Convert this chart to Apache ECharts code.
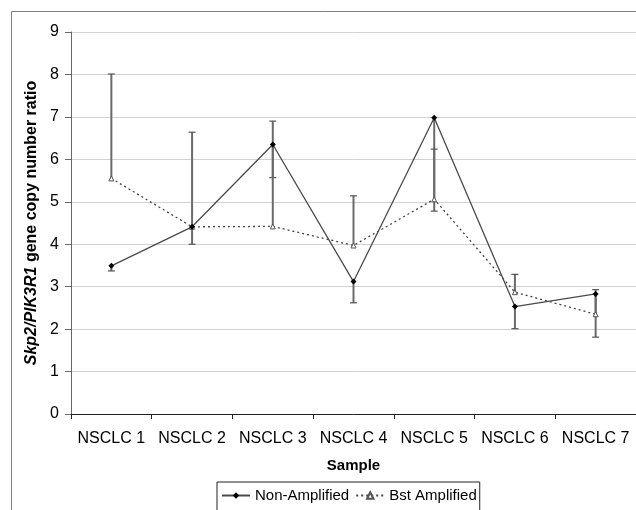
<!DOCTYPE html>
<html>
<head>
<meta charset="utf-8">
<script src="https://cdn.jsdelivr.net/npm/echarts@6/dist/echarts.min.js"></script>
<style>html,body{margin:0;padding:0;background:#fff;}#c{width:636px;height:510px;}</style>
</head>
<body>
<div id="c"></div>
<script>
var categories = ['NSCLC 1','NSCLC 2','NSCLC 3','NSCLC 4','NSCLC 5','NSCLC 6','NSCLC 7'];
var nonAmplified = [3.49, 4.41, 6.35, 3.12, 6.98, 2.53, 2.83];
var nonAmplifiedErrEnd = [3.37, 4.00, 5.57, 2.62, 4.78, 2.01, 1.81];
var bstAmplified = [5.55, 4.41, 4.42, 3.97, 5.06, 2.87, 2.35];
var bstAmplifiedErrEnd = [8.01, 6.64, 6.90, 5.14, 6.24, 3.29, 2.93];
var yTicks = [0,1,2,3,4,5,6,7,8,9];

var FONT = 'Arial, "Liberation Sans", sans-serif';

function errData(vals, ends) {
  return vals.map(function (v, i) { return [i, v, ends[i]]; });
}
function renderErr(params, api) {
  var i = api.value(0);
  var p0 = api.coord([i, api.value(1)]);
  var p1 = api.coord([i, api.value(2)]);
  var cap = 3.5;
  return {
    type: 'group',
    children: [
      { type: 'line', shape: { x1: p0[0], y1: p0[1], x2: p1[0], y2: p1[1] },
        style: { stroke: '#6a6a6a', lineWidth: 2 } },
      { type: 'line', shape: { x1: p1[0] - cap, y1: p1[1], x2: p1[0] + cap, y2: p1[1] },
        style: { stroke: '#555', lineWidth: 1.2 } }
    ]
  };
}

var chart = echarts.init(document.getElementById('c'), null, { renderer: 'canvas' });
chart.setOption({
  backgroundColor: '#fff',
  animation: false,
  textStyle: { fontFamily: FONT },
  graphic: [{
    type: 'rect', z: -10, silent: true,
    shape: { x: 11.5, y: 11.5, width: 700, height: 600 },
    style: { fill: 'none', stroke: '#808080', lineWidth: 1 }
  }],
  grid: { left: 71, top: 32, right: -3, bottom: 96 },
  legend: {
    left: 217, top: 482,
    padding: [6, 3, 12, 4],
    itemGap: 6, itemWidth: 28, itemHeight: 8,
    borderColor: '#222', borderWidth: 1,
    textStyle: { fontFamily: FONT, fontSize: 15, color: '#000' },
    data: ['Non-Amplified', 'Bst Amplified']
  },
  xAxis: {
    type: 'category',
    data: categories,
    boundaryGap: true,
    name: 'Sample',
    nameLocation: 'middle',
    nameGap: 44,
    nameTextStyle: { fontFamily: FONT, fontSize: 15, fontWeight: 'bold', color: '#000' },
    axisLine: { lineStyle: { color: '#222', width: 1 } },
    axisTick: { show: true, length: 5, alignWithLabel: false, lineStyle: { color: '#222' } },
    axisLabel: { margin: 17, fontSize: 16, color: '#000', fontFamily: FONT, interval: 0 },
    splitLine: { show: false }
  },
  yAxis: {
    type: 'value',
    min: 0, max: 9, interval: 1,
    name: '{i|Skp2/PIK3R1} gene copy number ratio',
    nameLocation: 'middle',
    nameRotate: 90,
    nameGap: 31,
    nameTextStyle: {
      fontFamily: FONT, fontSize: 16, fontWeight: 'bold', color: '#000',
      rich: { i: { fontFamily: FONT, fontSize: 16, fontWeight: 'bold', fontStyle: 'italic', color: '#000' } }
    },
    axisLine: { show: true, lineStyle: { color: '#666', width: 1 } },
    axisTick: { show: true, length: 6, lineStyle: { color: '#666' } },
    axisLabel: {
      margin: 12, fontSize: 16, color: '#000', fontFamily: FONT,
      formatter: function (v) { return yTicks.indexOf(v) >= 0 ? String(v) : ''; }
    },
    splitLine: { show: true, lineStyle: { color: '#d2d2d2', width: 1 } }
  },
  series: [
    {
      name: 'Non-Amplified NSCLC err', type: 'custom', renderItem: renderErr,
      data: errData(nonAmplified, nonAmplifiedErrEnd), z: 1, silent: true,
      encode: { x: 0, y: [1, 2] }
    },
    {
      name: 'Bst Amplified err', type: 'custom', renderItem: renderErr,
      data: errData(bstAmplified, bstAmplifiedErrEnd), z: 1, silent: true,
      encode: { x: 0, y: [1, 2] }
    },
    {
      name: 'Non-Amplified', type: 'line', data: nonAmplified, z: 3,
      symbol: 'diamond', symbolSize: 6,
      lineStyle: { color: '#4a4a4a', width: 1.3, type: 'solid' },
      itemStyle: { color: '#000', borderColor: '#000', borderWidth: 0 }
    },
    {
      name: 'Bst Amplified', type: 'line', data: bstAmplified, z: 2,
      symbol: 'triangle', symbolSize: 5,
      lineStyle: { color: '#444', width: 1.3, type: [2, 3] },
      itemStyle: { color: '#fff', borderColor: '#555', borderWidth: 1 }
    }
  ]
});
</script>
</body>
</html>
